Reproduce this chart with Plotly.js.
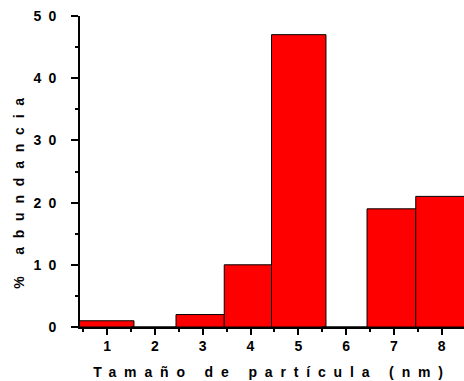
<!DOCTYPE html>
<html>
<head>
<meta charset="utf-8">
<script src="https://cdn.plot.ly/plotly-3.0.1.min.js"></script>
<style>
  html, body { margin: 0; padding: 0; background: #fff; }
  #chart { width: 464px; height: 381px; }
  .xtick text, .ytick text, .xtitle, .annotation-text { font-weight: bold !important; }
  .xtitle { letter-spacing: 7.85px; }
  .ytick text { letter-spacing: 7px; }
  .annotation-text { letter-spacing: 8.8px; }
</style>
</head>
<body>
<div id="chart"></div>
<script>
// Particle size categories (nm)
const sizes = [1, 2, 3, 4, 5, 6, 7, 8];
// % abundance for each size bin
const abundance = [1, 0, 2, 10, 47, 0, 19, 21];
// Histogram bin edges (nm)
const binStart = [0.4, 1.5, 2.44, 3.45, 4.44, 5.5, 6.44, 7.46];
const binEnd   = [1.56, 2.5, 3.45, 4.44, 5.58, 6.5, 7.46, 8.5];
// Tick labels
const xTickVals = [1, 2, 3, 4, 5, 6, 7, 8];
const xTickText = ['1', '2', '3', '4', '5', '6', '7', '8'];
const yTickVals = [0, 10, 20, 30, 40, 50];
const yTickText = ['0', '10', '20', '30', '40', '50'];

const centers = binStart.map((s, i) => (s + binEnd[i]) / 2);
const widths = binStart.map((s, i) => binEnd[i] - s);

const FONT = 'Arial, "Liberation Sans", sans-serif';

const trace = {
  type: 'bar',
  x: centers,
  y: abundance,
  width: widths,
  customdata: sizes,
  marker: { color: '#FF0000', line: { color: '#000000', width: 1 } },
  hoverinfo: 'skip'
};

const layout = {
  width: 464,
  height: 381,
  margin: { l: 80, r: 0, t: 16, b: 54 },
  paper_bgcolor: '#ffffff',
  plot_bgcolor: '#ffffff',
  showlegend: false,
  font: { family: FONT, color: '#000', size: 14 },
  xaxis: {
    range: [0.43, 8.47],
    showgrid: false,
    zeroline: false,
    showline: true,
    linecolor: '#000',
    linewidth: 2,
    ticks: 'outside',
    ticklen: 6,
    tickwidth: 2,
    tickcolor: '#000',
    tickmode: 'array',
    tickvals: xTickVals,
    ticktext: xTickText,
    tickfont: { family: FONT, size: 14, weight: 'bold' },
    ticklabelstandoff: -1,
    minor: { ticks: 'outside', ticklen: 3, tickwidth: 2, tickcolor: '#000', tick0: 0.5, dtick: 1, showgrid: false },
    title: { text: 'Tamaño de partícula (nm)', font: { family: FONT, size: 14, weight: 'bold' }, standoff: 14 }
  },
  yaxis: {
    range: [0, 50],
    showgrid: false,
    zeroline: false,
    showline: true,
    linecolor: '#000',
    linewidth: 2,
    ticks: 'outside',
    ticklen: 7,
    tickwidth: 2,
    tickcolor: '#000',
    tickmode: 'array',
    tickvals: yTickVals,
    ticktext: yTickText,
    tickfont: { family: FONT, size: 14, weight: 'bold' },
    ticklabelstandoff: 5,
    minor: { ticks: 'outside', ticklen: 3, tickwidth: 2, tickcolor: '#000', tick0: 5, dtick: 10, showgrid: false }
  },
  annotations: [{
    text: '% abundancia',
    xref: 'paper', yref: 'paper',
    x: -0.161, y: 0.445,
    xanchor: 'center', yanchor: 'middle',
    textangle: -90,
    showarrow: false,
    font: { family: FONT, size: 14, weight: 'bold', color: '#000' }
  }]
};

Plotly.newPlot('chart', [trace], layout, { displayModeBar: false, staticPlot: true });
</script>
</body>
</html>
